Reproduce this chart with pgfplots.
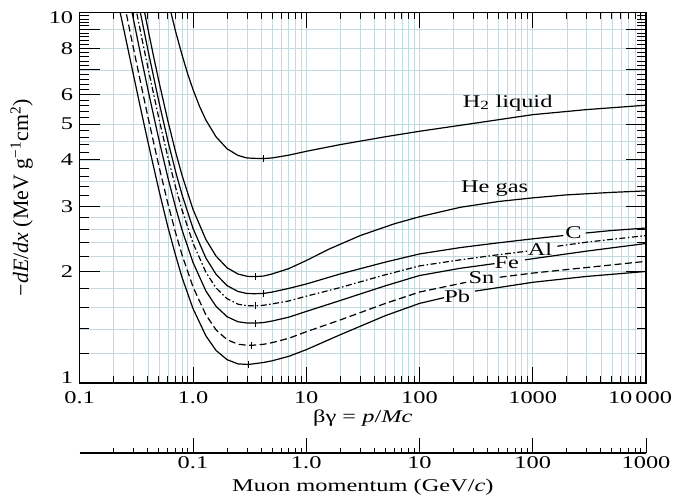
\documentclass[border=0pt]{standalone}
\usepackage{fontspec}
\setmainfont{Liberation Serif}[FakeStretch=1.36]
\newfontfamily\ylabfont{Liberation Serif}
\usepackage{pgfplots}
\pgfplotsset{compat=1.18}
\definecolor{gridc}{RGB}{195,218,222}
\newcommand{\tickaxis}[1]{%
\begin{axis}[scale only axis, axis line style={draw=none},
  xticklabels={}, yticklabels={}, major tick length=0pt, minor tick length=0pt,
  major grid style={draw=black, line width=0.9bp},
  minor grid style={draw=black, line width=0.9bp}, #1]
\addplot[draw=none] coordinates {(1,1)};
\end{axis}}
\begin{document}
\begin{tikzpicture}
\path[use as bounding box] (0,0) rectangle (674bp,498bp);
% grid-only axis underneath
\begin{axis}[
  at={(79.7bp,115bp)}, anchor=south west,
  scale only axis, width=566.3bp, height=370.5bp,
  xmode=log, ymode=log, xmin=0.1, xmax=10000, ymin=1, ymax=10,
  xtick={0.1,1,10,100,1000,10000},
  ytick={1,2,3,4,5,6,8,10},
  minor ytick={1.2,1.4,1.6,1.8,2.2,2.4,2.6,2.8,3.5,4.5,7,9},
  grid=both,
  major grid style={draw=gridc, line width=0.6bp},
  minor grid style={draw=gridc, line width=0.6bp},
  major tick length=0pt, minor tick length=0pt,
  xticklabels={}, yticklabels={},
  axis line style={draw=none},
]
\addplot[draw=none] coordinates {(1,2)};
\end{axis}
% y tick marks, left and right
\tickaxis{at={(79.7bp,115bp)}, anchor=south west, width=20bp, height=370.5bp, ymode=log, ymin=1, ymax=10, xmin=0, xmax=1, ytick={1,2,3,4,5,6,7,8,9,10}, xtick=\empty, grid=major}
\tickaxis{at={(79.7bp,115bp)}, anchor=south west, width=9bp, height=370.5bp, ymode=log, ymin=1, ymax=10, xmin=0, xmax=1, ytick={1,10}, minor ytick={1.2,1.4,1.6,1.8,2.2,2.4,2.6,2.8,3.2,3.4,3.6,3.8,4.2,4.4,4.6,4.8,5.2,5.4,5.6,5.8,6.2,6.4,6.6,6.8,7.2,7.4,7.6,7.8,8.2,8.4,8.6,8.8,9.2,9.4,9.6,9.8}, xtick=\empty, grid=minor}
\tickaxis{at={(646bp,115bp)}, anchor=south east, width=20bp, height=370.5bp, ymode=log, ymin=1, ymax=10, xmin=0, xmax=1, ytick={1,2,3,4,5,6,7,8,9,10}, xtick=\empty, grid=major}
\tickaxis{at={(646bp,115bp)}, anchor=south east, width=9bp, height=370.5bp, ymode=log, ymin=1, ymax=10, xmin=0, xmax=1, ytick={1,10}, minor ytick={1.2,1.4,1.6,1.8,2.2,2.4,2.6,2.8,3.2,3.4,3.6,3.8,4.2,4.4,4.6,4.8,5.2,5.4,5.6,5.8,6.2,6.4,6.6,6.8,7.2,7.4,7.6,7.8,8.2,8.4,8.6,8.8,9.2,9.4,9.6,9.8}, xtick=\empty, grid=minor}
% main axis
\begin{axis}[
  at={(79.7bp,115bp)}, anchor=south west,
  scale only axis, width=566.3bp, height=370.5bp,
  xmode=log, ymode=log, xmin=0.1, xmax=10000, ymin=1, ymax=10,
  xtick={0.1,1,10,100,1000,10000},
  ytick={1,2,3,4,5,6,8,10},
  major tick length=0pt, minor tick length=0pt,
  xticklabels={0.1,1.0,10,100,1000,\hspace*{-12bp}10\,000},
  yticklabels={\raisebox{5bp}[\height][0pt]{1},2,3,4,5,6,8,\raisebox{-5bp}[\height][0pt]{10}},
  axis line style={line width=1.3bp, black},
  tick label style={font=\fontsize{18}{20}\selectfont},
  xticklabel style={yshift=-5bp},
  yticklabel style={xshift=-3bp},
  xlabel={βγ = \textit{p}/\textit{Mc}},
  xlabel style={at={(axis description cs:0.5,0)}, anchor=center, yshift=-35bp, font=\fontsize{18}{20}\selectfont},
  ylabel={\ylabfont\fontsize{22}{24}\selectfont −\textit{dE}/\textit{dx} (MeV g\textsuperscript{−1}cm\textsuperscript{2})},
  ylabel style={at={(axis description cs:-0.1024,0.5)}, anchor=center},
  unbounded coords=jump,
]
% x tick marks, bottom and top
\pgfplotsinvokeforeach{1,10,100,1000}{
  \draw[black, line width=0.9bp] (axis cs:#1,1) -- ++(0bp,16bp);
  \draw[black, line width=0.9bp] (axis cs:#1,10) -- ++(0bp,-16bp);
}
\pgfplotsinvokeforeach{0.2,0.3,0.4,0.5,0.6,0.7,0.8,0.9,2,3,4,5,6,7,8,9,20,30,40,50,60,70,80,90,200,300,400,500,600,700,800,900,2000,3000,4000,5000,6000,7000,8000,9000}{
  \draw[black, line width=0.9bp] (axis cs:#1,1) -- ++(0bp,7bp);
  \draw[black, line width=0.9bp] (axis cs:#1,10) -- ++(0bp,-7bp);
}
% H2 liquid
\addplot[black, line width=1.2bp] coordinates {
(0.5,13.86) (0.55,12.14) (0.6,10.82) (0.7,8.93) (0.8,7.69) (0.9,6.82) (1.0,6.20) (1.15,5.557) (1.3,5.127) (1.6,4.616) (2.0,4.287) (2.5,4.113) (3.0,4.049) (3.5,4.04) (4.2,4.034) (5,4.05) (7,4.12) (10,4.22) (20,4.40) (50,4.62) (100,4.78) (300,5.02) (1000,5.30) (3000,5.47) (10000,5.62)};
% He gas
\addplot[black, line width=1.2bp] coordinates {
(0.3,14.13) (0.35,11.09) (0.4,9.04) (0.45,7.59) (0.5,6.527) (0.6,5.104) (0.7,4.223) (0.8,3.639) (1.0,2.944) (1.3,2.440) (1.6,2.200) (2.0,2.047) (2.5,1.969) (3.0,1.941) (3.5,1.937) (4.2,1.944) (5,1.97) (7,2.035) (10,2.14) (16,2.30) (30,2.50) (60,2.69) (100,2.81) (229,2.98) (500,3.09) (1000,3.16) (2000,3.22) (5000,3.27) (10000,3.30)};
% C
\addplot[black, line width=1.2bp] coordinates {
(0.25,16.46) (0.3,12.33) (0.35,9.71) (0.4,7.93) (0.5,5.75) (0.6,4.51) (0.7,3.737) (0.8,3.226) (1.0,2.616) (1.3,2.175) (1.6,1.965) (2.0,1.832) (2.5,1.766) (3.0,1.744) (3.5,1.742) (4.2,1.745) (5,1.76) (7,1.80) (10,1.85) (20,1.97) (50,2.12) (100,2.23) (229,2.32) (500,2.39) (1000,2.45) (1860,2.50) (2300,nan) (2930,2.54) (5000,2.58) (10000,2.62)};
% Al
\addplot[black, line width=1.2bp, dash pattern=on 6bp off 2.5bp on 1.5bp off 2.5bp] coordinates {
(0.25,14.54) (0.3,10.955) (0.35,8.66) (0.4,7.105) (0.5,5.179) (0.6,4.077) (0.7,3.390) (0.8,2.934) (1.0,2.387) (1.3,1.991) (1.6,1.805) (2.0,1.689) (2.5,1.632) (3.0,1.616) (3.55,1.615) (4.2,1.621) (5,1.635) (7,1.665) (10,1.715) (20,1.81) (50,1.96) (100,2.07) (229,2.15) (500,2.22) (908,2.27) (1200,nan) (1650,2.34) (3000,2.40) (10000,2.50)};
% Fe
\addplot[black, line width=1.2bp] coordinates {
(0.2,17.64) (0.25,12.53) (0.3,9.50) (0.35,7.54) (0.4,6.20) (0.5,4.544) (0.6,3.588) (0.7,2.992) (0.8,2.593) (1.0,2.117) (1.3,1.772) (1.6,1.610) (2.0,1.510) (2.5,1.463) (3.0,1.452) (3.55,1.451) (4.2,1.456) (5,1.47) (7,1.505) (10,1.56) (20,1.67) (50,1.83) (100,1.95) (229,2.04) (460,2.10) (600,nan) (853,2.15) (3000,2.27) (10000,2.38)};
% Sn
\addplot[black, line width=1.2bp, dash pattern=on 7bp off 3.5bp] coordinates {
(0.2,14.51) (0.25,10.41) (0.3,7.94) (0.35,6.34) (0.4,5.23) (0.5,3.855) (0.6,3.056) (0.7,2.554) (0.8,2.219) (1.0,1.818) (1.3,1.528) (1.6,1.391) (2.0,1.309) (2.5,1.272) (3.0,1.265) (3.3,1.264) (4.2,1.272) (5,1.285) (7,1.32) (10,1.375) (20,1.48) (50,1.64) (100,1.76) (258,1.87) (360,nan) (511,1.93) (1000,1.98) (3000,2.05) (10000,2.13)};
% Pb
\addplot[black, line width=1.2bp] coordinates {
(0.2,12.05) (0.25,8.75) (0.3,6.73) (0.35,5.40) (0.4,4.48) (0.5,3.32) (0.6,2.64) (0.7,2.22) (0.8,1.93) (1.0,1.589) (1.3,1.341) (1.6,1.224) (2.0,1.156) (2.5,1.126) (3.1,1.122) (4.2,1.136) (5,1.148) (7,1.18) (10,1.23) (20,1.35) (50,1.52) (100,1.64) (165,1.70) (220,nan) (309,1.77) (500,1.81) (1000,1.87) (3000,1.94) (10000,2.00)};
% minimum markers
\addplot[black, only marks, mark=|, mark size=3.5bp, mark options={line width=1bp}] coordinates {
(4.2,4.034) (3.55,1.937) (4.2,1.742) (3.55,1.615) (3.55,1.451) (3.3,1.264) (3.1,1.122)};
\node[font=\fontsize{18}{20}\selectfont] at (axis cs:600,5.7) {H\textsubscript{2} liquid};
\node[font=\fontsize{18}{20}\selectfont] at (axis cs:460,3.34) {He gas};
\node[font=\fontsize{18}{20}\selectfont] at (axis cs:2290,2.54) {C};
\node[font=\fontsize{18}{20}\selectfont] at (axis cs:1160,2.29) {Al};
\node[font=\fontsize{18}{20}\selectfont] at (axis cs:590,2.11) {Fe};
\node[font=\fontsize{18}{20}\selectfont] at (axis cs:353,1.92) {Sn};
\node[font=\fontsize{18}{20}\selectfont] at (axis cs:215,1.71) {Pb};
\end{axis}
% muon momentum axis
\begin{axis}[
  at={(79.7bp,45bp)}, anchor=south west,
  scale only axis, width=566.3bp, height=20bp,
  xmode=log, xmin=0.01, xmax=1000, ymin=0, ymax=1,
  axis x line=bottom, axis y line=none,
  x axis line style={-, line width=1.3bp, black},
  major tick length=0pt, minor tick length=0pt,
  xtick={0.1,1,10,100,1000}, xticklabels={0.1,1.0,10,100,1000},
  tick label style={font=\fontsize{18}{20}\selectfont},
  xlabel={Muon momentum (GeV/\textit{c})},
  xlabel style={at={(axis description cs:0.5,0)}, anchor=center, yshift=-34bp, font=\fontsize{18}{20}\selectfont},
  clip=false,
]
\addplot[draw=none] coordinates {(1,0.5)};
\pgfplotsinvokeforeach{0.1,1,10,100,1000}{
  \draw[black, line width=0.9bp] (axis cs:#1,0) -- ++(0bp,15bp);
}
\pgfplotsinvokeforeach{0.02,0.03,0.04,0.05,0.06,0.07,0.08,0.09,0.2,0.3,0.4,0.5,0.6,0.7,0.8,0.9,2,3,4,5,6,7,8,9,20,30,40,50,60,70,80,90,200,300,400,500,600,700,800,900}{
  \draw[black, line width=0.9bp] (axis cs:#1,0) -- ++(0bp,5bp);
}
\end{axis}
\end{tikzpicture}
\end{document}
